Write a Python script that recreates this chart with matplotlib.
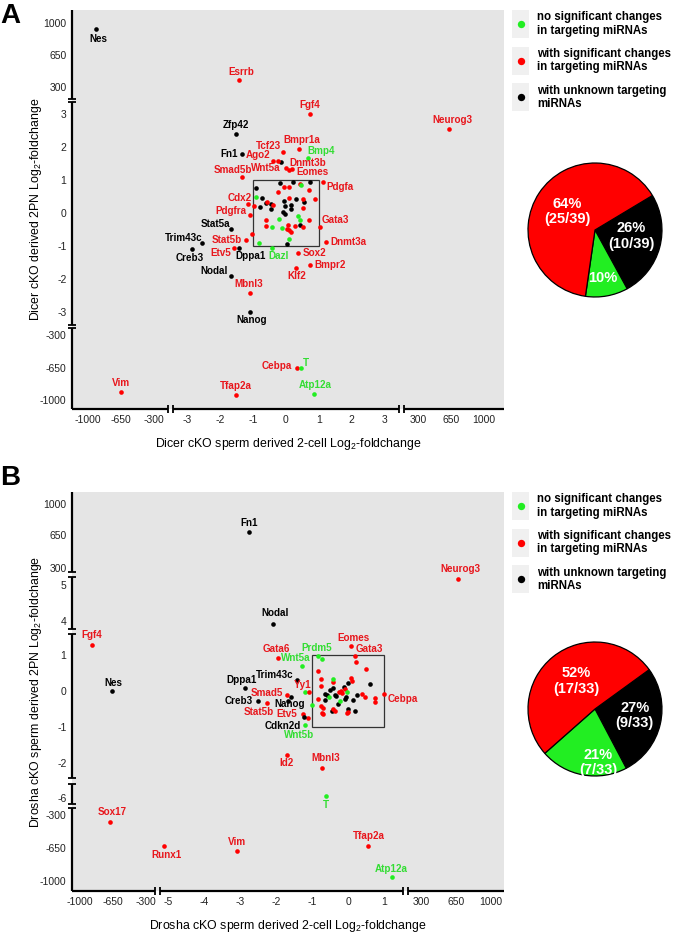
import numpy as np
import matplotlib
matplotlib.use("Agg")
import matplotlib.pyplot as plt
from matplotlib.patches import Rectangle
from matplotlib.ticker import FixedLocator, FixedFormatter

plt.rcParams['font.family'] = ['Liberation Sans', 'DejaVu Sans']
plt.rcParams['mathtext.fontset'] = 'custom'
plt.rcParams['mathtext.rm'] = 'Liberation Sans'
plt.rcParams['mathtext.it'] = 'Liberation Sans:italic'
plt.rcParams['mathtext.bf'] = 'Liberation Sans:bold'

# ---------------- colours ----------------
C_GREEN = '#22ee22'
C_RED = '#ff0000'
C_BLACK = '#000000'
T_GREEN = '#33dd33'
T_RED = '#e8161c'
CAT_PT = {'g': C_GREEN, 'r': C_RED, 'k': C_BLACK}
CAT_TX = {'g': T_GREEN, 'r': T_RED, 'k': C_BLACK}

# ================= DATA : panel A (Dicer) =================
a_lab_names = ['Nes', 'Esrrb', 'Fgf4', 'Neurog3', 'Zfp42', 'Fn1', 'Tcf23', 'Bmpr1a', 'Bmp4',
               'Ago2', 'Smad5b', 'Wnt5a', 'Dnmt3b', 'Eomes', 'Pdgfa', 'Cdx2', 'Pdgfra',
               'Gata3', 'Dnmt3a', 'Sox2', 'Bmpr2', 'Klf2', 'Mbnl3', 'Dazl', 'Dppa1', 'Etv5',
               'Stat5b', 'Stat5a', 'Trim43c', 'Creb3', 'Nodal', 'Nanog', 'Cebpa', 'T', 'Vim',
               'Tfap2a', 'Atp12a']
a_lab_x = [-909, -1.41, 0.73, 632, -1.52, -1.34, -0.08, 0.40, 0.66,
           -0.40, -1.34, 0.00, 0.10, 0.18, 1.13, -1.14, -1.09,
           1.03, 1.21, 0.37, 0.73, 0.32, -1.09, -0.43, -1.41, -1.58,
           -1.22, -1.65, -2.53, -2.84, -1.67, -1.08, 0.34, 0.47, -650,
           -1.52, 0.86]
a_lab_y = [935, 376, 3.0, 2.54, 2.40, 1.78, 1.86, 1.94, 1.66,
           1.58, 1.10, 1.35, 1.30, 1.32, 0.93, 0.27, -0.07,
           -0.44, -0.89, -1.22, -1.58, -1.68, -2.41, -1.05, -1.07, -1.07,
           -0.82, -0.49, -0.92, -1.10, -1.91, -3.01, -650, -650, -917,
           -946, -935]
a_lab_cat = ['k', 'r', 'r', 'r', 'k', 'k', 'r', 'r', 'g',
             'r', 'r', 'r', 'r', 'r', 'r', 'r', 'r',
             'r', 'r', 'r', 'r', 'r', 'r', 'g', 'k', 'r',
             'r', 'k', 'k', 'k', 'k', 'k', 'r', 'g', 'r',
             'r', 'g']

a_green_x = [-0.91, 0.47, -0.21, -0.43, -0.11, 0.37, 0.42, 0.10, -0.81]
a_green_y = [0.49, 0.85, -0.19, -0.43, -0.47, -0.09, -0.21, -0.79, -0.92]
a_red_x = [-0.23, -0.25, -0.05, 0.10, 0.42, 0.71, 0.88, 0.51, 0.10, -0.56, -0.38, -0.96,
           -0.59, -0.59, 0.07, 0.27, 0.51, 0.70, 0.51, 0.09, 0.15, 0.04, -1.02]
a_red_y = [1.58, 0.63, 0.78, 0.80, 0.87, 0.70, 0.42, 0.42, 0.44, 0.34, 0.24, 0.21,
           -0.21, -0.38, -0.36, -0.39, 0.14, -0.21, -0.43, -0.52, -0.57, -0.49, -0.63]
a_black_x = [-0.15, -0.18, 0.22, 0.73, -0.89, -0.72, -0.59, -0.46, -0.46, -0.77, -0.06,
             0.15, 0.15, -0.03, -0.08, -0.03, 0.32, 0.55, 0.42, 0.04]
a_black_y = [1.55, 0.90, 0.95, 0.95, 0.77, 0.44, 0.31, 0.27, 0.12, 0.17, 0.37,
             0.24, 0.11, 0.21, 0.04, -0.03, 0.42, 0.33, -0.36, -0.95]
a_box = [-1, 1, -1, 1]

# ================= DATA : panel B (Drosha) =================
b_lab_names = ['Fn1', 'Nodal', 'Fgf4', 'Nes', 'Gata6', 'Prdm5', 'Wnt5a', 'Eomes', 'Gata3',
               'Trim43c', 'Dppa1', 'Yy1', 'Smad5', 'Creb3', 'Stat5b', 'Nanog', 'Etv5',
               'Cdkn2d', 'Wnt5b', 'Id2', 'Mbnl3', 'T', 'Sox17', 'Runx1', 'Vim', 'Tfap2a',
               'Atp12a', 'Cebpa', 'Neurog3']
b_lab_x = [-2.76, -2.09, -867, -661, -1.97, -0.86, -1.30, 0.07, 0.18,
           -1.43, -2.88, -1.09, -1.72, -2.52, -2.27, -1.69, -1.27,
           -1.24, -1.21, -1.72, -0.73, -0.63, -680, -5.12, -3.09, 0.53,
           1.20, 0.99, 668]
b_lab_y = [682, 3.93, 1.28, 0.01, 0.93, 0.96, 0.68, 1.26, 0.98,
           0.31, 0.09, -0.02, -0.10, -0.28, -0.33, -0.28, -0.64,
           -0.71, -0.94, -1.78, -2.13, -5.94, -380, -635, -688, -635,
           -962, -0.09, 5.16]
b_lab_cat = ['k', 'k', 'r', 'k', 'r', 'g', 'g', 'r', 'r',
             'k', 'k', 'r', 'r', 'k', 'r', 'k', 'r',
             'k', 'g', 'r', 'r', 'g', 'r', 'r', 'r', 'r',
             'g', 'r', 'r']

b_green_x = [-0.73, -0.44, -1.21, -0.05, -0.55, -0.24, -1.00]
b_green_y = [0.90, 0.33, -0.02, -0.02, -0.16, -0.27, -0.39]
b_red_x = [-0.86, -0.76, -0.75, 0.20, -0.43, 0.50, 0.08, 0.11, -0.20, -0.26, -0.17, -0.10,
           0.37, 0.46, 0.75, 0.75, -0.84, -0.75, -0.70, -0.73, -0.72, -0.42, -0.37, -0.02,
           -0.03, -1.12]
b_red_y = [0.56, 0.33, 0.15, 0.81, 0.26, 0.61, 0.35, 0.29, 0.00, -0.02, -0.05, 0.05,
           -0.09, -0.16, -0.19, -0.32, -0.23, -0.41, -0.46, -0.60, -0.64, -0.51, -0.55, -0.59,
           -0.62, -0.76]
b_black_x = [0.60, 0.00, -0.44, -0.50, -0.37, -0.59, -0.12, 0.23, 0.13, -0.65, -0.35,
             -0.07, -0.10, -0.30, -0.65, -0.02, 0.18, -0.47, -1.60]
b_black_y = [0.19, 0.23, 0.09, 0.03, -0.11, -0.11, 0.12, -0.11, -0.25, -0.08, -0.14,
             -0.16, -0.23, -0.36, -0.25, -0.51, -0.57, -0.57, -0.18]
b_box = [-1, 1, -1, 1]

# ---------------- axis tick values ----------------
a_xticks = [-1000, -650, -300, -3, -2, -1, 0, 1, 2, 3, 300, 650, 1000]
a_yticks = [-1000, -650, -300, -3, -2, -1, 0, 1, 2, 3, 300, 650, 1000]
a_xgrid = [-1000, -300, -2, 0, 2, 300, 1000]
a_ygrid = [-1000, -300, -2, 0, 2, 300, 1000]
b_xticks = [-1000, -650, -300, -5, -4, -3, -2, -1, 0, 1, 300, 650, 1000]
b_yticks = [-1000, -650, -300, -6, -2, -1, 0, 1, 4, 5, 300, 650, 1000]

# ---------------- pies ----------------
pie_a_vals = [10, 4, 25]        # black, green, red
pie_a_text = ['26%\n(10/39)', '10%', '64%\n(25/39)']
pie_b_vals = [9, 7, 17]
pie_b_text = ['27%\n(9/33)', '21%\n(7/33)', '52%\n(17/33)']
pie_colors = [C_BLACK, C_GREEN, C_RED]

legend_labels = ['no significant changes\nin targeting miRNAs',
                 'with significant changes\nin targeting miRNAs',
                 'with unknown targeting\nmiRNAs']
legend_colors = [C_GREEN, C_RED, C_BLACK]

# ================= LAYOUT =================
W, H = 675, 934
fig = plt.figure(figsize=(W / 100, H / 100), dpi=100)


def frac(l, t, r, b):
    return [l / W, 1 - b / H, (r - l) / W, (b - t) / H]


def pw_scale(vals, pos):
    vals = np.asarray(vals, float)
    pos = np.asarray(pos, float)

    def fwd(v):
        return np.interp(np.asarray(v, float), vals, pos)

    def inv(p):
        return np.interp(np.asarray(p, float), pos, vals)
    return fwd, inv


# broken-axis mapping (value -> position)
ax_a_x = pw_scale([-5000, -1000, -650, -300, -3, 3, 300, 650, 1000, 5000],
                  [-6 - 4000 / 350, -6, -5, -4, -3, 3, 4, 5, 6, 6 + 4000 / 350])
ax_a_y = pw_scale([-5000, -1000, -650, -300, -3, 3, 300, 650, 1000, 5000],
                  [-5.67 - 4000 * .97 / 350, -5.67, -4.7, -3.7, -3, 3, 3.82, 4.79, 5.76,
                   5.76 + 4000 * .97 / 350])
ax_b_x = pw_scale([-5000, -1000, -650, -300, -5.24, 1.51, 300, 650, 1000, 5000],
                  [-7.47 - 4000 * .92 / 350, -7.47, -6.55, -5.63, -5.24, 1.51, 2.01, 2.98, 3.96,
                   3.96 + 4000 * .98 / 350])
ax_b_y = pw_scale([-5000, -1000, -650, -300, -6.16, -5.61, -2.42, 1.57, 3.77, 5.25, 300, 650, 1000, 5000],
                  [-5.28 - 4000 * .92 / 350, -5.28, -4.36, -3.44, -3.14, -2.59, -2.42, 1.57, 1.71,
                   3.19, 3.41, 4.33, 5.21, 5.21 + 4000 * .88 / 350])


def setup_axes(rect, sx, sy, xlim_p, ylim_p, xticks, yticks, xgrid, ygrid, xsegs, ysegs):
    ax = fig.add_axes(rect)
    ax.set_xscale('function', functions=sx)
    ax.set_yscale('function', functions=sy)
    ax.set_xlim(sx[1](xlim_p[0]), sx[1](xlim_p[1]))
    ax.set_ylim(sy[1](ylim_p[0]), sy[1](ylim_p[1]))
    ax.set_facecolor('#e5e5e5')
    for s in ax.spines.values():
        s.set_visible(False)
    ax.xaxis.set_major_locator(FixedLocator(xticks))
    ax.xaxis.set_major_formatter(FixedFormatter([str(t) for t in xticks]))
    ax.yaxis.set_major_locator(FixedLocator(yticks))
    ax.yaxis.set_major_formatter(FixedFormatter([str(t) for t in yticks]))
    ax.xaxis.set_minor_locator(FixedLocator(xgrid))
    ax.yaxis.set_minor_locator(FixedLocator(ygrid))
    ax.tick_params(which='both', length=0, labelsize=7.5, colors='#222222', pad=4)
    ax.grid(True, which='minor', color='white', lw=1.0)
    ax.set_axisbelow(True)
    # broken spines
    for p0, p1 in xsegs:
        v0, v1 = sx[1](p0), sx[1](p1)
        ax.plot([v0, v1], [0, 0], transform=ax.get_xaxis_transform(), color='black',
                lw=1.6, clip_on=False, solid_capstyle='butt', zorder=5)
    for p in [q for seg in xsegs for q in seg][1:-1]:
        ax.plot([sx[1](p)], [0], transform=ax.get_xaxis_transform(), marker='|',
                ms=6, mew=1.3, color='black', clip_on=False, zorder=5)
    for p0, p1 in ysegs:
        v0, v1 = sy[1](p0), sy[1](p1)
        ax.plot([0, 0], [v0, v1], transform=ax.get_yaxis_transform(), color='black',
                lw=1.6, clip_on=False, solid_capstyle='butt', zorder=5)
    for p in [q for seg in ysegs for q in seg][1:-1]:
        ax.plot([0], [sy[1](p)], transform=ax.get_yaxis_transform(), marker='_',
                ms=6, mew=1.3, color='black', clip_on=False, zorder=5)
    return ax


def draw_points(ax, box, gx, gy, rx, ry, kx, ky, names, lx, ly, lcat, offs):
    ax.add_patch(Rectangle((box[0], box[2]), box[1] - box[0], box[3] - box[2],
                           fill=False, ec='#333333', lw=0.9, zorder=3))
    ax.scatter(kx, ky, s=11, c=C_BLACK, lw=0, zorder=4)
    ax.scatter(rx, ry, s=11, c=C_RED, lw=0, zorder=4)
    ax.scatter(gx, gy, s=11, c=C_GREEN, lw=0, zorder=4)
    for n, x, y, c in zip(names, lx, ly, lcat):
        ax.scatter([x], [y], s=11, c=CAT_PT[c], lw=0, zorder=4)
        dx, dy, ha = offs.get(n, (0, 9, 'center'))
        ax.annotate(n, (x, y), xytext=(dx * 0.72, dy * 0.72), textcoords='offset points',
                    ha=ha, va='center', fontsize=7.1, fontweight='bold', color=CAT_TX[c],
                    zorder=6)


# label offsets (pixels, dy up)
a_offs = {
    'Nes': (2, -10, 'center'), 'Esrrb': (2, 8, 'center'), 'Fgf4': (0, 9, 'center'),
    'Neurog3': (3, 9, 'center'), 'Zfp42': (0, 9, 'center'), 'Fn1': (-4, 0, 'right'),
    'Tcf23': (-2, 6, 'right'), 'Ago2': (-2, 6, 'right'), 'Bmpr1a': (3, 9, 'center'),
    'Bmp4': (0, 7, 'left'), 'Smad5b': (-9, 7, 'center'), 'Wnt5a': (-5, 0, 'right'),
    'Dnmt3b': (0, 7, 'left'), 'Eomes': (5, -3, 'left'), 'Pdgfa': (3, -5, 'left'),
    'Cdx2': (-9, 6, 'center'), 'Pdgfra': (-3, 4, 'right'), 'Gata3': (2, 7, 'left'),
    'Dnmt3a': (5, 0, 'left'), 'Sox2': (5, 0, 'left'), 'Bmpr2': (4, 0, 'left'),
    'Klf2': (0, -8, 'center'), 'Mbnl3': (-1, 9, 'center'), 'Dazl': (7, -8, 'center'),
    'Dppa1': (11, -8, 'center'), 'Etv5': (-13, -5, 'center'), 'Stat5b': (-4, 0, 'right'),
    'Stat5a': (-16, 5, 'center'), 'Trim43c': (-19, 5, 'center'), 'Creb3': (-2, -9, 'center'),
    'Nodal': (-17, 5, 'center'), 'Nanog': (1, -8, 'center'), 'Cebpa': (-5, 2, 'right'),
    'T': (5, 5, 'center'), 'Vim': (0, 9, 'center'), 'Tfap2a': (0, 9, 'center'),
    'Atp12a': (1, 9, 'center'),
}
b_offs = {
    'Fn1': (0, 9, 'center'), 'Nodal': (2, 11, 'center'), 'Fgf4': (0, 10, 'center'),
    'Nes': (2, 8, 'center'), 'Gata6': (-1, 9, 'center'), 'Prdm5': (-1, 8, 'center'),
    'Wnt5a': (-6, 8, 'center'), 'Eomes': (2, 8, 'center'), 'Gata3': (1, 7, 'left'),
    'Trim43c': (-3, 5, 'right'), 'Dppa1': (-3, 8, 'center'), 'Yy1': (-7, 7, 'center'),
    'Smad5': (-3, 2, 'right'), 'Creb3': (-5, 0, 'right'), 'Stat5b': (-8, -9, 'center'),
    'Nanog': (2, -3, 'center'), 'Etv5': (-6, 0, 'right'), 'Cdkn2d': (-3, -9, 'right'),
    'Wnt5b': (-6, -10, 'center'), 'Id2': (0, -8, 'center'), 'Mbnl3': (3, 10, 'center'),
    'T': (0, -9, 'center'), 'Sox17': (2, 10, 'center'), 'Runx1': (2, -9, 'center'),
    'Vim': (0, 9, 'center'), 'Tfap2a': (1, 10, 'center'), 'Atp12a': (0, 8, 'center'),
    'Cebpa': (4, -5, 'left'), 'Neurog3': (3, 10, 'center'),
}

XL_FS = 8.9

# ---- panel A ----
axA = setup_axes(frac(72, 10, 504, 409), ax_a_x, ax_a_y, (-6.48, 6.61), (-5.94, 6.15),
                 a_xticks, a_yticks, a_xgrid, a_ygrid,
                 [(-6.48, -3.58), (-3.42, 3.42), (3.58, 6.61)],
                 [(-5.94, -3.48), (-3.39, 3.36), (3.45, 6.15)])
draw_points(axA, a_box, a_green_x, a_green_y, a_red_x, a_red_y, a_black_x, a_black_y,
            a_lab_names, a_lab_x, a_lab_y, a_lab_cat, a_offs)
axA.set_xlabel('Dicer cKO sperm derived 2-cell Log$_\\mathregular{2}$-foldchange', fontsize=XL_FS,
               labelpad=8)
axA.set_ylabel('Dicer cKO derived 2PN Log$_\\mathregular{2}$-foldchange', fontsize=XL_FS,
               labelpad=-3)

# ---- panel B ----
axB = setup_axes(frac(72, 492, 504, 891), ax_b_x, ax_b_y, (-7.68, 4.32), (-5.56, 5.53),
                 b_xticks, b_yticks, b_xticks, b_yticks,
                 [(-7.68, -5.37), (-5.24, 1.51), (1.65, 4.32)],
                 [(-5.56, -3.25), (-3.14, -2.59), (-2.42, 1.57), (1.71, 3.17), (3.31, 5.53)])
draw_points(axB, b_box, b_green_x, b_green_y, b_red_x, b_red_y, b_black_x, b_black_y,
            b_lab_names, b_lab_x, b_lab_y, b_lab_cat, b_offs)
axB.set_xlabel('Drosha cKO sperm derived 2-cell Log$_\\mathregular{2}$-foldchange', fontsize=XL_FS,
               labelpad=8)
axB.set_ylabel('Drosha cKO sperm derived 2PN Log$_\\mathregular{2}$-foldchange', fontsize=XL_FS,
               labelpad=-3)

# ---- overlay for legends and panel letters ----
ov = fig.add_axes([0, 0, 1, 1], zorder=10)
ov.set_xlim(0, W)
ov.set_ylim(H, 0)
ov.axis('off')
ov.patch.set_alpha(0)
ov.text(10, 16, 'A', fontsize=20, fontweight='bold', ha='center', va='center')
ov.text(10, 478, 'B', fontsize=20, fontweight='bold', ha='center', va='center')

for top in (10, 492):
    for i, (lab, col) in enumerate(zip(legend_labels, legend_colors)):
        y0 = top + i * 36.6
        ov.add_patch(Rectangle((512, y0), 17, 28, color='#f0f0f0', lw=0))
        ov.scatter([520.5], [y0 + 14], s=28, c=col, lw=0)
        ov.text(537, y0 + 14, lab, fontsize=8.3, fontweight='bold', ha='left', va='center',
                linespacing=1.15)


def draw_pie(cx, cy, r, vals, texts, start, place):
    pax = fig.add_axes(frac(cx - r - 2, cy - r - 2, cx + r + 2, cy + r + 2))
    wedges, _ = pax.pie(vals, colors=pie_colors, startangle=start, counterclock=False,
                        wedgeprops=dict(edgecolor='black', lw=0.9))
    pax.set_xlim(-1.03, 1.03)
    pax.set_ylim(-1.03, 1.03)
    pax.set_aspect('equal')
    for w, t, (rr, dth) in zip(wedges, texts, place):
        ang = np.deg2rad((w.theta1 + w.theta2) / 2 + dth)
        pax.text(rr * np.cos(ang), rr * np.sin(ang), t, color='white', fontsize=10.5,
                 fontweight='bold', ha='center', va='center', linespacing=1.15)


draw_pie(595, 230, 67, pie_a_vals, pie_a_text, 31, [(0.55, 6), (0.72, -1), (0.5, 0)])
draw_pie(595, 709, 67, pie_b_vals, pie_b_text, 36, [(0.6, 4), (0.8, 14), (0.5, -5)])

fig.savefig('out.png', dpi=100)
